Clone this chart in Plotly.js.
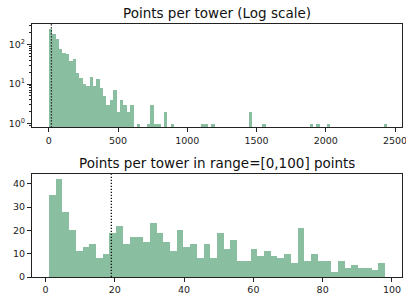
<!DOCTYPE html>
<html><head><meta charset="utf-8">
<script src="https://cdn.plot.ly/plotly-3.0.1.min.js"></script>
<style>html,body{margin:0;padding:0;background:#fff}#chart{width:406px;height:297px}</style>
</head><body><div id="chart"></div>
<script>
// Top histogram: 100 bins of points per tower (log y)
const logBinStart = 1;
const logBinWidth = 24.44;
const logCounts = [
  240,185,132,78,62,57,38,43,19,14,
  10,9,15,9,13,8,5,3,4,7,
  2,4,3,2,3,0,1,0,0,1,
  3,1,1,0,2,0,1,0,0,0,
  0,0,0,0,0,1,1,0,1,0,
  0,0,0,0,0,0,0,0,0,2,
  0,0,0,1,0,0,0,0,0,0,
  0,0,0,0,0,0,0,1,0,1,
  0,0,1,0,0,0,0,0,0,0,
  0,0,0,0,0,0,0,0,0,1
];
// Bottom histogram: 50 bins within [0,100]
const linBinStart = 1;
const linBinWidth = 1.94;
const linCounts = [
  35,42,28,20,11,13,14,8,10,19,
  22,14,17,17,15,23,19,15,11,20,
  13,14,8,14,8,19,12,16,7,7,
  12,9,11,9,8,10,6,21,7,10,
  7,7,2,7,4,5,4,4,3,6
];
const markerX = 19;
const topTicks = [0,500,1000,1500,2000,2500];
const botTicks = [0,20,40,60,80,100];
const linYTicks = [0,10,20,30,40];
const logTickVals = [1,10,100];
const logTickText = ['10<sup>0</sup>','10<sup>1</sup>','10<sup>2</sup>'];
const titles = ['Points per tower (Log scale)','Points per tower in range=[0,100] points'];

const barColor = 'rgba(46,139,87,0.56)';
const centers = (start, w, n) => Array.from({length:n}, (_, i) => start + w*(i+0.5));

const traces = [
  {type:'bar', x:centers(logBinStart, logBinWidth, logCounts.length),
   y:logCounts.map(v => v > 0 ? v : null), width:logBinWidth,
   marker:{color:barColor, line:{width:0}}, xaxis:'x', yaxis:'y', hoverinfo:'skip'},
  {type:'bar', x:centers(linBinStart, linBinWidth, linCounts.length),
   y:linCounts, width:linBinWidth,
   marker:{color:barColor, line:{width:0}}, xaxis:'x2', yaxis:'y2', hoverinfo:'skip'}
];

const axBase = {showline:true, mirror:true, linecolor:'#222', linewidth:1, ticks:'outside',
  ticklen:4, tickcolor:'#222', showgrid:false, zeroline:false, ticklabeloverflow:'allow',
  tickfont:{size:9.5, color:'#222'}};

const layout = {
  width:406, height:297, showlegend:false, bargap:0,
  paper_bgcolor:'#fff', plot_bgcolor:'#fff',
  font:{family:'DejaVu Sans', color:'#111'},
  margin:{l:32, r:4, t:24, b:20},
  xaxis:Object.assign({}, axBase, {domain:[0,1], range:[-121,2550], tickmode:'array', tickvals:topTicks, anchor:'y'}),
  yaxis:Object.assign({}, axBase, {domain:[0.591,1], type:'log', range:[-0.094,2.51], tickmode:'array',
    tickvals:logTickVals, ticktext:logTickText, anchor:'x',
    minor:{ticks:'outside', ticklen:2, tickcolor:'#222', dtick:'D1'}}),
  xaxis2:Object.assign({}, axBase, {domain:[0,1], range:[-3.9,102.9], tickmode:'array', tickvals:botTicks, anchor:'y2'}),
  yaxis2:Object.assign({}, axBase, {domain:[0,0.406], range:[0,44.1], tickmode:'array', tickvals:linYTicks, anchor:'x2'}),
  shapes:[
    {type:'line', xref:'x', yref:'y domain', x0:markerX, x1:markerX, y0:0, y1:1, layer:'above', line:{color:'#111', width:1.3, dash:'1.3px,1.7px'}},
    {type:'line', xref:'x2', yref:'y2 domain', x0:markerX, x1:markerX, y0:0, y1:1, layer:'above', line:{color:'#111', width:1.3, dash:'1.3px,1.7px'}}
  ],
  annotations:[
    {text:titles[0], xref:'paper', yref:'paper', x:0.5, y:1, xanchor:'center', yanchor:'bottom', yshift:1, showarrow:false, font:{size:13.5, color:'#111'}},
    {text:titles[1], xref:'paper', yref:'paper', x:0.5, y:0.406, xanchor:'center', yanchor:'bottom', yshift:1, showarrow:false, font:{size:13.5, color:'#111'}}
  ]
};

Plotly.newPlot('chart', traces, layout, {displayModeBar:false, staticPlot:true});
</script>
</body></html>
